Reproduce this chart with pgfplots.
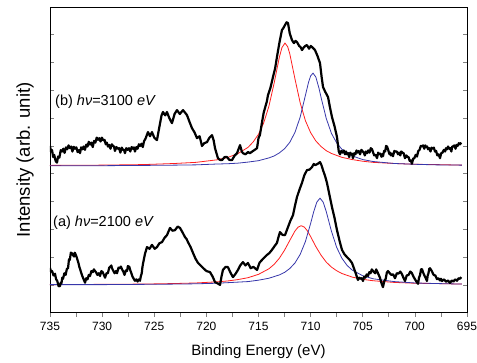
\documentclass[border=0pt]{standalone}
\usepackage{fontspec}
\setmainfont{Liberation Sans}
\usepackage{pgfplots}
\pgfplotsset{compat=1.18}
\definecolor{fitred}{RGB}{255,30,30}
\definecolor{fitblue}{RGB}{55,55,170}
\begin{document}
\begin{tikzpicture}
\useasboundingbox (-50pt,-49.3pt) rectangle (427pt,312.7pt);
\begin{axis}[
  at={(0pt,0pt)}, anchor=south west,
  scale only axis, width=417pt, height=305.7pt,
  x dir=reverse, xmin=695, xmax=735, ymin=0, ymax=11,
  xtick={695,700,...,735}, minor xtick={697.5,702.5,...,732.5},
  ytick={0,1,...,11}, yticklabels={},
  tick align=inside, xtick pos=left, ytick pos=both,
  major tick length=4pt, minor tick length=4pt,
  x tick style={yshift=-4pt, line width=0.7pt},
  y tick style={line width=0.7pt},
  axis line style={line width=0.8pt},
  /pgf/number format/assume math mode=true,
  /pgf/number format/1000 sep={},
  xticklabel style={font=\fontsize{12}{14}\selectfont, yshift=-6pt},
  xlabel={Binding Energy (eV)},
  xlabel style={at={(axis description cs:0.5,-0.1407)}, anchor=base, font=\fontsize{15}{18}\selectfont},
  ylabel={Intensity (arb. unit)},
  ylabel style={at={(axis description cs:-0.06,0.5)}, anchor=center, font=\fontsize{18.5}{22}\selectfont},
]
% (b) fits
\addplot[fitred, line width=0.8pt] table {
x y
735 5.30
730 5.31
726 5.33
723 5.37
721 5.41
719 5.50
718 5.58
717 5.72
716 5.95
715.5 6.15
715 6.42
714.5 6.83
714 7.43
713.5 8.26
713 9.19
712.75 9.54
712.46 9.70
712.2 9.57
712 9.32
711.5 8.41
711 7.55
710.5 6.91
710 6.48
709.5 6.18
709 5.98
708.5 5.83
708 5.73
707 5.59
706 5.51
705 5.45
704 5.41
702 5.37
700 5.34
698 5.33
695.5 5.31
};
\addplot[fitblue, line width=0.8pt] table {
x y
735 5.29
730 5.29
726 5.30
723 5.31
721 5.32
719 5.35
718 5.36
717 5.38
716 5.42
715 5.47
714 5.57
713.5 5.64
713 5.75
712.5 5.90
712 6.13
711.5 6.49
711 7.04
710.5 7.82
710.2 8.29
710 8.52
709.77 8.62
709.5 8.48
709.2 8.08
709 7.75
708.5 6.99
708 6.45
707.5 6.11
707 5.88
706 5.64
705 5.51
704 5.44
702 5.37
700 5.34
698 5.32
695.5 5.31
};
% (a) fits
\addplot[fitred, line width=0.8pt] table {
x y
735 1.01
730 1.02
726 1.03
723 1.05
721 1.07
719 1.11
718 1.14
717 1.19
716 1.26
715 1.38
714 1.58
713.5 1.74
713 1.96
712.5 2.25
712 2.60
711.5 2.94
711.2 3.08
710.9 3.13
710.6 3.08
710.3 2.94
710 2.74
709.5 2.38
709 2.07
708.5 1.82
708 1.64
707.5 1.51
707 1.41
706 1.28
705 1.20
704 1.15
702 1.09
700 1.06
698 1.05
695.5 1.03
};
\addplot[fitblue, line width=0.8pt] table {
x y
735 1.01
730 1.01
726 1.02
723 1.03
721 1.04
719 1.06
718 1.08
717 1.10
716 1.12
715 1.17
714 1.24
713 1.36
712.5 1.45
712 1.59
711.5 1.79
711 2.10
710.5 2.56
710 3.21
709.7 3.64
709.4 3.98
709.1 4.12
708.8 3.98
708.5 3.64
708.2 3.21
708 2.93
707.5 2.35
707 1.96
706.5 1.70
706 1.53
705 1.33
704 1.22
702 1.12
700 1.07
698 1.05
695.5 1.03
};
% (b) data
\addplot[black, line width=2.2pt, line join=round] table {
x y
735.00 6.00
734.90 5.80
734.80 5.85
734.70 5.60
734.60 5.68
734.45 5.45
734.33 5.40
734.22 5.62
734.10 5.58
733.97 5.85
733.85 5.80
733.72 5.90
733.60 5.75
733.47 5.95
733.35 5.88
733.22 6.02
733.08 5.92
732.97 5.98
732.85 5.80
732.72 5.97
732.60 5.90
732.47 5.95
732.35 5.78
732.23 5.85
732.12 5.74
732.01 5.95
731.90 5.88
731.77 5.98
731.65 5.86
731.52 6.05
731.40 5.98
731.28 6.15
731.16 6.05
731.03 6.12
730.90 5.96
730.77 6.18
730.65 6.12
730.52 6.30
730.40 6.22
730.27 6.28
730.15 6.16
730.02 6.30
729.90 6.20
729.77 6.22
729.65 6.06
729.55 6.12
729.44 5.98
729.32 6.04
729.20 5.90
729.07 6.06
728.95 6.00
728.86 5.98
728.77 5.82
728.63 5.96
728.50 5.90
728.37 5.92
728.25 5.76
728.12 5.94
728.00 5.86
727.90 5.86
727.81 5.74
727.68 5.92
727.55 5.86
727.42 5.92
727.30 5.80
727.17 5.96
727.05 5.90
726.95 5.95
726.85 5.80
726.72 5.96
726.60 5.90
726.47 6.06
726.35 6.00
726.22 6.08
726.10 5.96
725.97 6.18
725.85 6.25
725.60 6.50
725.40 6.35
725.22 6.50
725.00 6.30
724.74 6.21
724.50 6.70
724.30 7.10
724.16 7.22
723.95 7.10
723.78 7.22
723.55 7.00
723.30 6.82
723.05 7.15
722.82 7.29
722.55 7.15
722.24 7.29
722.05 7.20
721.86 7.11
721.60 6.85
721.38 6.64
721.15 6.50
720.90 6.28
720.65 6.35
720.42 6.00
720.20 6.10
719.94 6.14
719.70 6.30
719.46 6.39
719.30 6.20
719.17 5.92
719.00 5.70
718.89 5.56
718.70 5.50
718.50 5.49
718.25 5.60
718.02 5.60
717.80 5.50
717.54 5.49
717.30 5.65
717.06 5.74
716.90 5.90
716.77 6.03
716.60 5.80
716.49 5.74
716.25 5.70
716.00 5.78
715.82 5.74
715.60 5.80
715.40 5.85
715.14 5.92
715.00 6.28
714.86 6.40
714.66 6.86
714.50 7.20
714.38 7.36
714.20 7.60
714.09 7.83
713.85 8.10
713.61 8.48
713.40 8.80
713.23 9.20
713.00 9.70
712.75 10.17
712.60 10.25
712.46 10.35
712.30 10.45
712.17 10.42
712.00 10.05
711.79 9.81
711.60 9.70
711.45 9.78
711.31 9.74
711.10 9.60
710.95 9.55
710.83 9.45
710.65 9.55
710.50 9.60
710.35 9.63
710.15 9.50
709.98 9.60
709.87 9.56
709.70 9.50
709.58 9.45
709.35 9.25
709.10 8.98
708.95 8.50
708.81 8.12
708.60 7.95
708.33 7.76
708.15 7.40
707.95 7.04
707.70 6.70
707.47 6.32
707.30 5.80
707.18 5.70
707.06 5.82
706.95 5.76
706.82 5.84
706.70 5.70
706.60 5.80
706.51 5.70
706.40 5.74
706.30 5.60
706.20 5.76
706.10 5.70
706.02 5.72
705.94 5.56
705.82 5.74
705.70 5.70
705.60 5.84
705.50 5.76
705.38 5.82
705.26 5.70
705.13 5.86
705.00 5.80
704.90 5.76
704.80 5.66
704.70 5.80
704.59 5.74
704.47 5.84
704.35 5.76
704.23 5.92
704.11 5.88
704.00 5.76
703.90 5.66
703.76 5.68
703.63 5.56
703.52 5.76
703.40 5.70
703.30 5.72
703.20 5.61
703.13 5.70
703.06 5.63
702.95 5.82
702.85 5.80
702.76 6.00
702.67 5.98
702.56 5.86
702.45 5.71
702.37 5.76
702.30 5.66
702.20 5.72
702.10 5.63
701.97 5.82
701.85 5.80
701.73 5.80
701.62 5.70
701.51 5.76
701.40 5.66
701.30 5.80
701.20 5.76
701.08 5.74
700.95 5.56
700.82 5.66
700.70 5.60
700.60 5.60
700.50 5.46
700.39 5.48
700.28 5.36
700.16 5.55
700.05 5.56
699.92 5.68
699.80 5.62
699.67 5.82
699.55 5.86
699.43 6.00
699.32 5.98
699.21 6.02
699.10 5.90
699.00 6.02
698.90 5.96
698.82 5.98
698.74 5.88
698.62 5.92
698.50 5.80
698.40 5.94
698.30 5.90
698.18 5.94
698.07 5.80
697.96 5.82
697.85 5.66
697.72 5.70
697.59 5.56
697.47 5.74
697.35 5.76
697.22 5.86
697.10 5.80
697.01 5.92
696.92 5.88
696.81 5.98
696.70 5.90
696.60 5.92
696.50 5.80
696.42 5.98
696.34 5.98
696.22 6.02
696.10 5.90
696.00 6.04
695.90 6.00
695.78 6.10
695.67 6.06
695.55 6.12
};
% (a) data
\addplot[black, line width=2.2pt, line join=round] table {
x y
735.00 1.61
734.90 1.48
734.80 1.50
734.66 1.34
734.52 1.40
734.41 1.20
734.30 1.14
734.17 0.95
734.04 0.96
733.97 1.08
733.90 1.06
733.82 1.26
733.75 1.22
733.62 1.42
733.50 1.36
733.38 1.58
733.27 1.60
733.18 1.92
733.10 1.90
733.00 2.16
732.89 2.14
732.80 2.08
732.70 2.02
732.62 2.16
732.55 2.10
732.48 2.04
732.41 1.96
732.33 1.86
732.25 1.76
732.18 1.64
732.12 1.58
732.01 1.44
731.90 1.32
731.77 1.20
731.64 1.08
731.52 1.24
731.40 1.20
731.28 1.36
731.16 1.32
731.03 1.50
730.90 1.46
730.79 1.56
730.68 1.50
730.56 1.44
730.45 1.36
730.32 1.42
730.20 1.32
730.07 1.50
729.95 1.46
729.83 1.36
729.72 1.26
729.58 1.42
729.45 1.42
729.32 1.62
729.20 1.66
729.12 1.70
729.05 1.60
728.92 1.50
728.80 1.42
728.68 1.50
728.57 1.42
728.43 1.62
728.30 1.60
728.20 1.66
728.09 1.56
727.97 1.48
727.85 1.36
727.73 1.52
727.61 1.50
727.53 1.68
727.45 1.66
727.39 1.65
727.33 1.56
727.21 1.44
727.10 1.31
726.97 1.22
726.85 1.15
726.72 1.20
726.60 1.12
726.48 1.20
726.37 1.15
726.28 1.32
726.20 1.42
726.14 1.62
726.08 1.76
725.90 2.10
725.70 2.36
725.45 2.30
725.22 2.44
724.95 2.30
724.74 2.36
724.50 2.50
724.26 2.54
724.00 2.70
723.78 2.79
723.60 2.95
723.49 3.05
723.25 2.95
723.01 2.97
722.75 3.10
722.53 3.05
722.30 2.90
722.05 2.72
721.90 2.65
721.76 2.54
721.50 2.35
721.28 2.15
721.05 1.95
720.80 1.79
720.55 1.70
720.32 1.61
720.00 1.50
719.65 1.46
719.40 1.30
719.17 1.10
718.90 1.05
718.69 1.00
718.55 1.30
718.41 1.54
718.15 1.65
717.93 1.64
717.70 1.45
717.45 1.28
717.20 1.40
716.97 1.54
716.75 1.70
716.49 1.82
716.25 1.70
716.01 1.79
715.75 1.60
715.50 1.65
715.14 1.54
714.90 1.80
714.66 1.90
714.40 2.00
714.18 2.08
713.95 2.15
713.71 2.26
713.45 2.40
713.23 2.51
713.10 2.70
712.94 2.90
712.70 2.80
712.46 2.79
712.30 2.95
712.17 3.08
711.95 3.30
711.69 3.51
711.50 3.85
711.31 4.16
711.05 4.45
710.83 4.67
710.60 4.95
710.35 5.13
710.10 5.15
709.87 5.24
709.70 5.35
709.58 5.31
709.35 5.35
709.10 5.42
708.95 5.30
708.81 5.13
708.60 4.90
708.43 4.67
708.20 4.25
707.95 3.80
707.70 3.40
707.47 2.97
707.20 2.55
706.99 2.26
706.75 2.10
706.51 2.00
706.25 1.90
706.03 1.79
705.75 1.50
705.46 1.18
705.33 1.26
705.20 1.22
705.09 1.24
704.98 1.14
704.86 1.30
704.75 1.26
704.62 1.38
704.50 1.32
704.37 1.46
704.25 1.42
704.13 1.56
704.02 1.50
703.91 1.46
703.80 1.42
703.71 1.56
703.63 1.50
703.49 1.38
703.35 1.26
703.20 1.06
703.06 0.92
702.93 1.14
702.80 1.22
702.69 1.44
702.58 1.50
702.41 1.42
702.25 1.36
702.08 1.38
701.91 1.24
701.73 1.42
701.55 1.41
701.40 1.48
701.24 1.39
701.10 1.26
700.95 1.14
700.78 1.34
700.60 1.36
700.44 1.48
700.28 1.42
700.14 1.30
700.00 1.21
699.85 1.12
699.70 1.04
699.60 1.26
699.50 1.36
699.41 1.56
699.32 1.57
699.18 1.42
699.05 1.31
698.95 1.24
698.84 1.14
698.77 1.34
698.70 1.41
698.62 1.58
698.55 1.60
698.38 1.50
698.20 1.36
698.04 1.34
697.88 1.21
697.74 1.24
697.60 1.16
697.50 1.22
697.40 1.14
697.20 1.20
697.00 1.11
696.82 1.16
696.63 1.07
696.46 1.16
696.30 1.12
696.13 1.20
695.96 1.15
695.80 1.24
695.67 1.22
695.55 1.28
};
\node[anchor=base west, font=\fontsize{14.5}{17}\selectfont, inner sep=0pt] at (axis cs:734.52,7.44) {(b) \textit{hν}=3100 \textit{eV}};
\node[anchor=base west, font=\fontsize{14.5}{17}\selectfont, inner sep=0pt] at (axis cs:734.71,3.10) {(a) \textit{hν}=2100 \textit{eV}};
\end{axis}
\end{tikzpicture}
\end{document}
